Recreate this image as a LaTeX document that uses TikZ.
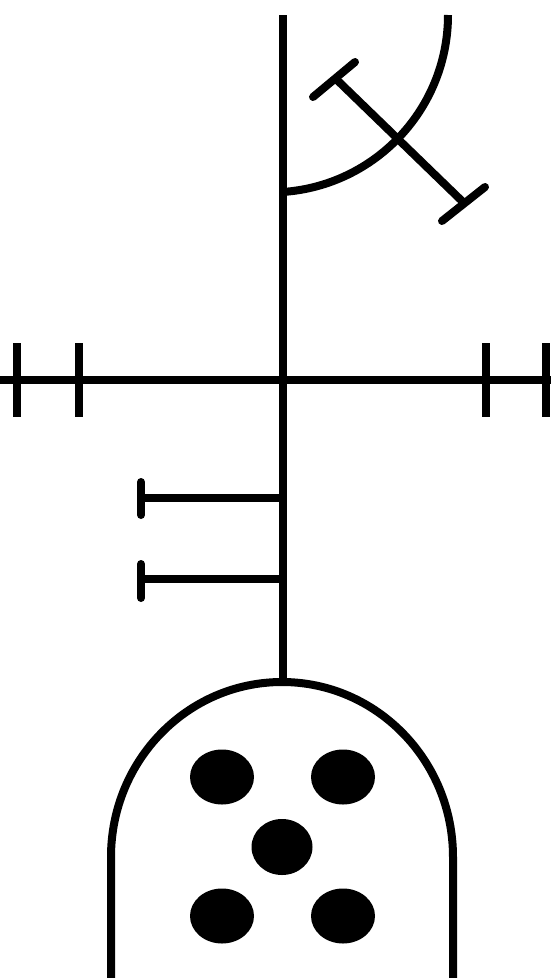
\documentclass[tikz,border=0pt]{standalone}
\begin{document}
\begin{tikzpicture}[x=1pt,y=-1pt,
  stroke/.style={line width=8pt,black},
  capline/.style={line width=8pt,black,line cap=round},
  dot/.style={fill=black}]
\useasboundingbox (0,0) rectangle (551,978);
% main vertical
\coordinate (top) at (283,15);
\coordinate (bot) at (283,684);
\draw[stroke] (top) -- (bot);
% arc, centre (270.6,15) r 177.4
\coordinate (arcstart) at (448,15);
\draw[stroke] (arcstart) arc[start angle=0,end angle=86,radius=177.4];
% diagonal bar
\coordinate (d1) at (336,79);
\coordinate (d2) at (463,202);
\draw[stroke] (d1) -- (d2);
\draw[capline] (313,97) -- (355,62);
\draw[capline] (442,221) -- (485,187);
% crossbar
\draw[stroke] (0,380) -- (551,380);
\draw[stroke] (17,343) -- (17,417);
\draw[stroke] (79,343) -- (79,417);
\draw[stroke] (486,343) -- (486,417);
\draw[stroke] (546,343) -- (546,417);
% small bars
\draw[stroke] (141,498) -- (283,498);
\draw[stroke] (141,579) -- (283,579);
\draw[capline] (141,482) -- (141,515);
\draw[capline] (141,564) -- (141,598);
% dome
\draw[stroke] (111,978) -- (111,857) arc[start angle=180,end angle=0,x radius=171,y radius=-175] -- (453,978);
% dots
\fill[dot] (222,777) ellipse[x radius=32,y radius=27.5];
\fill[dot] (343,777) ellipse[x radius=32,y radius=27.5];
\fill[dot] (282,847) ellipse[x radius=30.5,y radius=28];
\fill[dot] (222,916) ellipse[x radius=32,y radius=27.5];
\fill[dot] (343,916) ellipse[x radius=32,y radius=27.5];
\end{tikzpicture}
\end{document}
